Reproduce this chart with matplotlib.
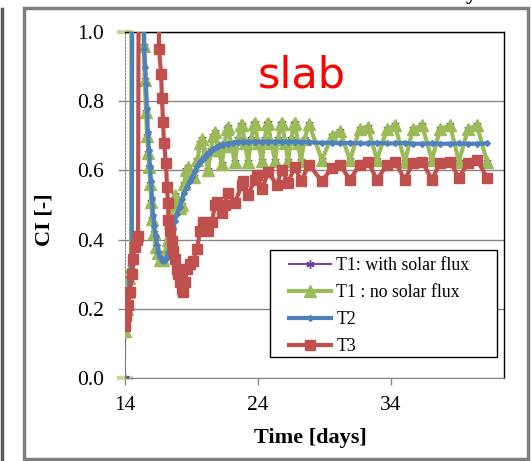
import matplotlib.pyplot as plt
from matplotlib.patches import Rectangle
from matplotlib.lines import Line2D

# T1 (green; the purple "with solar flux" curve lies on top of it)
t1_time = [14.02, 14.15, 14.25, 14.32, 14.45, 14.50, 15.25, 15.40, 15.48, 15.58,
           15.66, 15.75, 15.82, 15.90, 15.98, 16.05, 16.15, 16.30, 16.45, 16.65,
           16.85, 17.00, 17.20, 17.40, 17.60, 17.76, 17.95, 18.10, 18.25, 18.45,
           18.60, 18.74, 18.95, 19.20, 19.45, 19.65, 19.80, 20.00, 20.24, 20.45,
           20.65, 20.77, 21.00, 21.29, 21.50, 21.65, 21.74, 22.00, 22.27, 22.50,
           22.70, 22.80, 23.00, 23.25, 23.50, 23.70, 23.77, 24.00, 24.30, 24.50,
           24.70, 24.75, 25.00, 25.28, 25.50, 25.72, 25.80, 26.05, 26.26, 26.50,
           26.70, 26.78, 27.00, 27.23, 27.50, 27.83, 28.81, 29.55, 30.15, 30.92,
           31.65, 32.27, 32.95, 33.70, 34.30, 35.05, 35.65, 36.35, 37.08, 37.70,
           38.45, 39.11, 39.80, 40.47, 41.22]
t1_val = [0.135, 0.20, 0.25, 0.29, 0.32, 1.50, 1.50, 0.96, 0.86, 0.77,
          0.70, 0.65, 0.61, 0.56, 0.51, 0.46, 0.42, 0.38, 0.36, 0.34,
          0.34, 0.36, 0.40, 0.45, 0.50, 0.53, 0.50, 0.49, 0.50, 0.56,
          0.60, 0.61, 0.59, 0.58, 0.63, 0.68, 0.69, 0.65, 0.60, 0.66,
          0.70, 0.71, 0.66, 0.618, 0.68, 0.72, 0.725, 0.67, 0.624, 0.69,
          0.73, 0.731, 0.68, 0.625, 0.69, 0.735, 0.737, 0.68, 0.628, 0.69,
          0.735, 0.737, 0.68, 0.628, 0.69, 0.735, 0.737, 0.68, 0.628, 0.69,
          0.735, 0.737, 0.68, 0.628, 0.69, 0.735, 0.63, 0.70, 0.715, 0.63,
          0.72, 0.725, 0.63, 0.72, 0.73, 0.625, 0.72, 0.73, 0.63, 0.72,
          0.73, 0.625, 0.72, 0.73, 0.625]

# T2 (blue)
t2_time = [14.02, 14.15, 14.25, 14.35, 14.45, 14.52, 14.55, 15.30, 15.45, 15.52,
           15.58, 15.65, 15.72, 15.80, 15.88, 15.95, 16.03, 16.11, 16.20, 16.30,
           16.41, 16.50, 16.63, 16.75, 16.86, 17.00, 17.16, 17.27, 17.38, 17.50,
           17.61, 17.75, 17.91, 18.10, 18.29, 18.45, 18.66, 18.89, 19.05, 19.26,
           19.45, 19.64, 19.85, 20.02, 20.20, 20.39, 20.65, 20.92, 21.15, 21.37,
           21.75, 22.12, 22.50, 22.87, 23.25, 23.77, 24.30, 24.75, 25.28, 25.80,
           26.26, 26.78, 27.23, 27.83, 28.81, 29.55, 30.15, 30.92, 31.65, 32.27,
           32.95, 33.70, 34.30, 35.05, 35.65, 36.35, 37.08, 37.70, 38.45, 39.11,
           39.80, 40.47, 41.22]
t2_val = [0.21, 0.23, 0.25, 0.28, 0.31, 0.34, 1.50, 1.50, 0.95, 0.90,
          0.85, 0.78, 0.71, 0.66, 0.61, 0.57, 0.52, 0.47, 0.44, 0.41,
          0.385, 0.365, 0.349, 0.34, 0.337, 0.34, 0.349, 0.365, 0.386, 0.41,
          0.43, 0.455, 0.473, 0.495, 0.516, 0.535, 0.553, 0.568, 0.58, 0.597,
          0.612, 0.625, 0.633, 0.64, 0.647, 0.654, 0.662, 0.669, 0.672, 0.674,
          0.677, 0.68, 0.682, 0.683, 0.683, 0.683, 0.683, 0.683, 0.683, 0.683,
          0.683, 0.683, 0.682, 0.681, 0.68, 0.68, 0.678, 0.68, 0.678, 0.678,
          0.68, 0.678, 0.678, 0.68, 0.677, 0.677, 0.678, 0.677, 0.677, 0.678,
          0.677, 0.677, 0.678]

# T3 (red)
t3_time = [14.01, 14.10, 14.23, 14.38, 14.52, 14.60, 14.75, 14.88, 14.98, 15.05,
           16.50, 16.56, 16.71, 16.78, 16.86, 16.93, 17.08, 17.16, 17.23, 17.27,
           17.38, 17.53, 17.61, 17.76, 17.91, 17.98, 18.14, 18.29, 18.36, 18.51,
           18.66, 18.89, 19.11, 19.41, 19.64, 19.86, 20.24, 20.54, 20.77, 20.92,
           21.29, 21.52, 21.74, 22.27, 22.80, 22.87, 23.25, 23.77, 23.92, 24.30,
           24.75, 25.43, 25.80, 26.26, 26.78, 27.23, 27.83, 28.81, 29.55, 30.15,
           30.92, 31.65, 32.27, 32.95, 33.70, 34.30, 35.05, 35.65, 36.35, 37.08,
           37.70, 38.45, 39.11, 39.80, 40.47, 41.22]
t3_val = [0.15, 0.18, 0.21, 0.25, 0.30, 0.345, 0.38, 0.40, 0.41, 1.50,
          1.50, 0.95, 0.88, 0.81, 0.74, 0.68, 0.62, 0.553, 0.507, 0.458,
          0.424, 0.395, 0.366, 0.343, 0.314, 0.30, 0.277, 0.256, 0.248, 0.277,
          0.314, 0.33, 0.337, 0.372, 0.424, 0.452, 0.424, 0.452, 0.50, 0.51,
          0.478, 0.50, 0.536, 0.507, 0.559, 0.568, 0.53, 0.573, 0.588, 0.545,
          0.594, 0.559, 0.602, 0.565, 0.611, 0.568, 0.617, 0.568, 0.608, 0.617,
          0.573, 0.617, 0.625, 0.573, 0.617, 0.625, 0.573, 0.622, 0.625, 0.573,
          0.622, 0.625, 0.579, 0.622, 0.631, 0.579]

# purple series starts with an extra point at (14, 0)
t1s_time = [14.0] + t1_time
t1s_val = [0.0] + t1_val

start_time = [14.0, 14.0]
start_val = [0.0, 1.0]

labels = ['T1: with solar flux', 'T1 : no solar flux', 'T2', 'T3']
colors = ['#7030a0', '#9bbb59', '#4f81bd', '#c0504d']
serif = 'Liberation Serif'

fig = plt.figure(figsize=(5.31, 4.61), dpi=100)
ax = fig.add_axes([125 / 531, 1 - 378 / 461, 379 / 531, 346 / 461])

ax.plot(start_time, start_val, ls='none', marker='_', ms=11, mew=3,
        color='#c4d79b', zorder=1, clip_on=False)
ax.plot(t1s_time, t1s_val, color=colors[0], lw=1.3, marker=(6, 2, 0), ms=6,
        mew=1, zorder=2, label=labels[0])
ax.plot(t1_time, t1_val, color=colors[1], lw=3, marker='^', ms=9,
        zorder=3, label=labels[1])
ax.plot(t2_time, t2_val, color=colors[2], lw=3, marker='D', ms=3,
        zorder=4, label=labels[2])
ax.plot(t3_time, t3_val, color=colors[3], lw=3, marker='s', ms=7,
        zorder=5, label=labels[3])

ax.set_xlim(14, 42.5)
ax.set_ylim(0, 1)
ax.set_xticks([14, 24, 34])
ax.set_yticks([0, 0.2, 0.4, 0.6, 0.8, 1.0])
ax.set_yticklabels(['0.0', '0.2', '0.4', '0.6', '0.8', '1.0'])
ax.yaxis.grid(True, color='#868686', lw=1)
ax.set_axisbelow(True)

for s in ['top', 'right']:
    ax.spines[s].set_color('black')
    ax.spines[s].set_linewidth(1)
ax.spines['bottom'].set_color('#868686')
ax.spines['left'].set_color('#868686')
ax.spines['left'].set_linestyle((0, (1.5, 1.5)))
ax.tick_params(axis='both', colors='#868686', length=5, width=1,
               labelcolor='black', labelsize=15.5)
ax.tick_params(axis='x', pad=8)
ax.tick_params(axis='y', pad=10)
for lab in ax.get_xticklabels() + ax.get_yticklabels():
    lab.set_fontfamily(serif)

ax.set_xlabel('Time [days]', fontsize=16, fontweight='bold', family=serif)
ax.set_ylabel('CI [-]', fontsize=16, fontweight='bold', family=serif)
ax.xaxis.set_label_coords((310 - 125) / 379, (378 - 438) / 346)
ax.xaxis.label.set_va('center')
ax.yaxis.set_label_coords((45 - 125) / 379, (378 - 220) / 346)
ax.yaxis.label.set_va('center')

ax.text(0.467, 0.873, 'slab', transform=ax.transAxes, color='red',
        fontsize=31, ha='center', va='center', family='DejaVu Sans')

# legend box drawn separately so the entries keep Excel's left inset
ax.add_patch(Rectangle((0.383, 0.061), 0.598, 0.309, transform=ax.transAxes,
                       facecolor='white', edgecolor='black', lw=1,
                       zorder=9, clip_on=False))
leg = ax.legend(loc='upper left', bbox_to_anchor=(0.432, 0.349),
                borderaxespad=0, frameon=False,
                prop={'family': serif, 'size': 12.8},
                handlelength=2.4, handletextpad=0.28, labelspacing=0.56,
                borderpad=0, numpoints=1)
leg.set_zorder(10)

# outer chart frame and neighbouring panel edge
fig.patches.append(Rectangle((24 / 531, 2 / 461), 504 / 531, 451 / 461,
                             transform=fig.transFigure, fill=False,
                             edgecolor='#7f7f7f', lw=2.5))
fig.add_artist(Line2D([2 / 531, 2 / 531], [0, 452 / 461],
                      transform=fig.transFigure, color='#595959', lw=2.5))
fig.text(471 / 531, 1 + 1 / 461, 'y', fontsize=16, fontweight='bold',
         family=serif, ha='center', va='baseline')

fig.savefig('out.png', dpi=100)
